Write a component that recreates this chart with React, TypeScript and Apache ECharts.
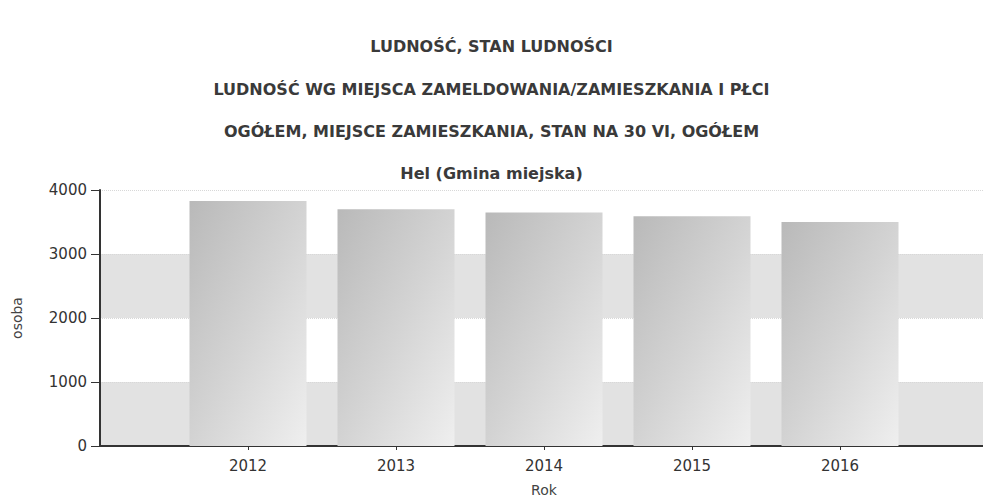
import React, { useEffect, useRef } from "react";
import * as echarts from "echarts";

const titles = [
  "LUDNOŚĆ, STAN LUDNOŚCI",
  "LUDNOŚĆ WG MIEJSCA ZAMELDOWANIA/ZAMIESZKANIA I PŁCI",
  "OGÓŁEM, MIEJSCE ZAMIESZKANIA, STAN NA 30 VI, OGÓŁEM",
  "Hel (Gmina miejska)",
];
const years = ["2012", "2013", "2014", "2015", "2016"];
const population = [3830, 3700, 3650, 3590, 3500];
const yTicks = [0, 1000, 2000, 3000, 4000];
const xName = "Rok";
const yName = "osoba";

export default function App() {
  const ref = useRef<HTMLDivElement>(null);
  useEffect(() => {
    if (!ref.current) return;
    const chart = echarts.init(ref.current, null, { renderer: "svg" });
    const axisData = ["", ...years, ""];
    const barData = ["-", ...population, "-"];
    const titleTops = [33, 76, 118, 160];
    chart.setOption({
      animation: false,
      title: titles.map((t, i) => ({
        text: t,
        left: "center",
        top: titleTops[i],
        textStyle: {
          fontFamily: "DejaVu Sans",
          fontWeight: "bold",
          fontSize: 16,
          color: "#3a3a3a",
        },
      })),
      grid: {
        left: 100,
        width: 888,
        top: 190,
        bottom: 53,
        containLabel: false,
        outerBoundsMode: "none",
      },
      xAxis: {
        type: "category",
        data: axisData,
        boundaryGap: false,
        name: xName,
        nameLocation: "middle",
        nameGap: 37,
        nameTextStyle: { fontFamily: "DejaVu Sans", fontSize: 14, color: "#444" },
        axisLine: { lineStyle: { color: "#333", width: 2 } },
        axisTick: {
          length: 4,
          lineStyle: { color: "#333", width: 1 },
          interval: (_i: number, v: string) => v !== "",
        },
        axisLabel: {
          interval: 0,
          fontFamily: "DejaVu Sans",
          fontSize: 15,
          color: "#333",
          margin: 12,
        },
        splitLine: { show: false },
      },
      yAxis: {
        type: "value",
        min: yTicks[0],
        max: yTicks[yTicks.length - 1],
        interval: 1000,
        name: yName,
        nameLocation: "middle",
        nameGap: 76,
        nameTextStyle: { fontFamily: "DejaVu Sans", fontSize: 14, color: "#444" },
        axisLine: { show: true, lineStyle: { color: "#333", width: 2 } },
        axisTick: { show: true, length: 9, lineStyle: { color: "#333" } },
        axisLabel: {
          fontFamily: "DejaVu Sans",
          fontSize: 15,
          color: "#333",
          margin: 13,
          formatter: (v: number) => String(v),
        },
        splitLine: { show: true, lineStyle: { color: "#d8d8d8", type: "dotted" } },
        splitArea: { show: true, areaStyle: { color: ["#e2e2e2", "#ffffff"] } },
      },
      series: [
        {
          type: "bar",
          data: barData,
          barWidth: 117,
          itemStyle: {
            color: new echarts.graphic.LinearGradient(0, 0, 1, 1, [
              { offset: 0, color: "#b9b9b9" },
              { offset: 0.5, color: "#d3d3d3" },
              { offset: 1, color: "#efefef" },
            ]),
          },
        },
      ],
    });
    return () => chart.dispose();
  }, []);
  return (
    <div
      ref={ref}
      style={{ position: "fixed", left: 0, top: 0, width: 983, height: 499, background: "#fff" }}
    />
  );
}
